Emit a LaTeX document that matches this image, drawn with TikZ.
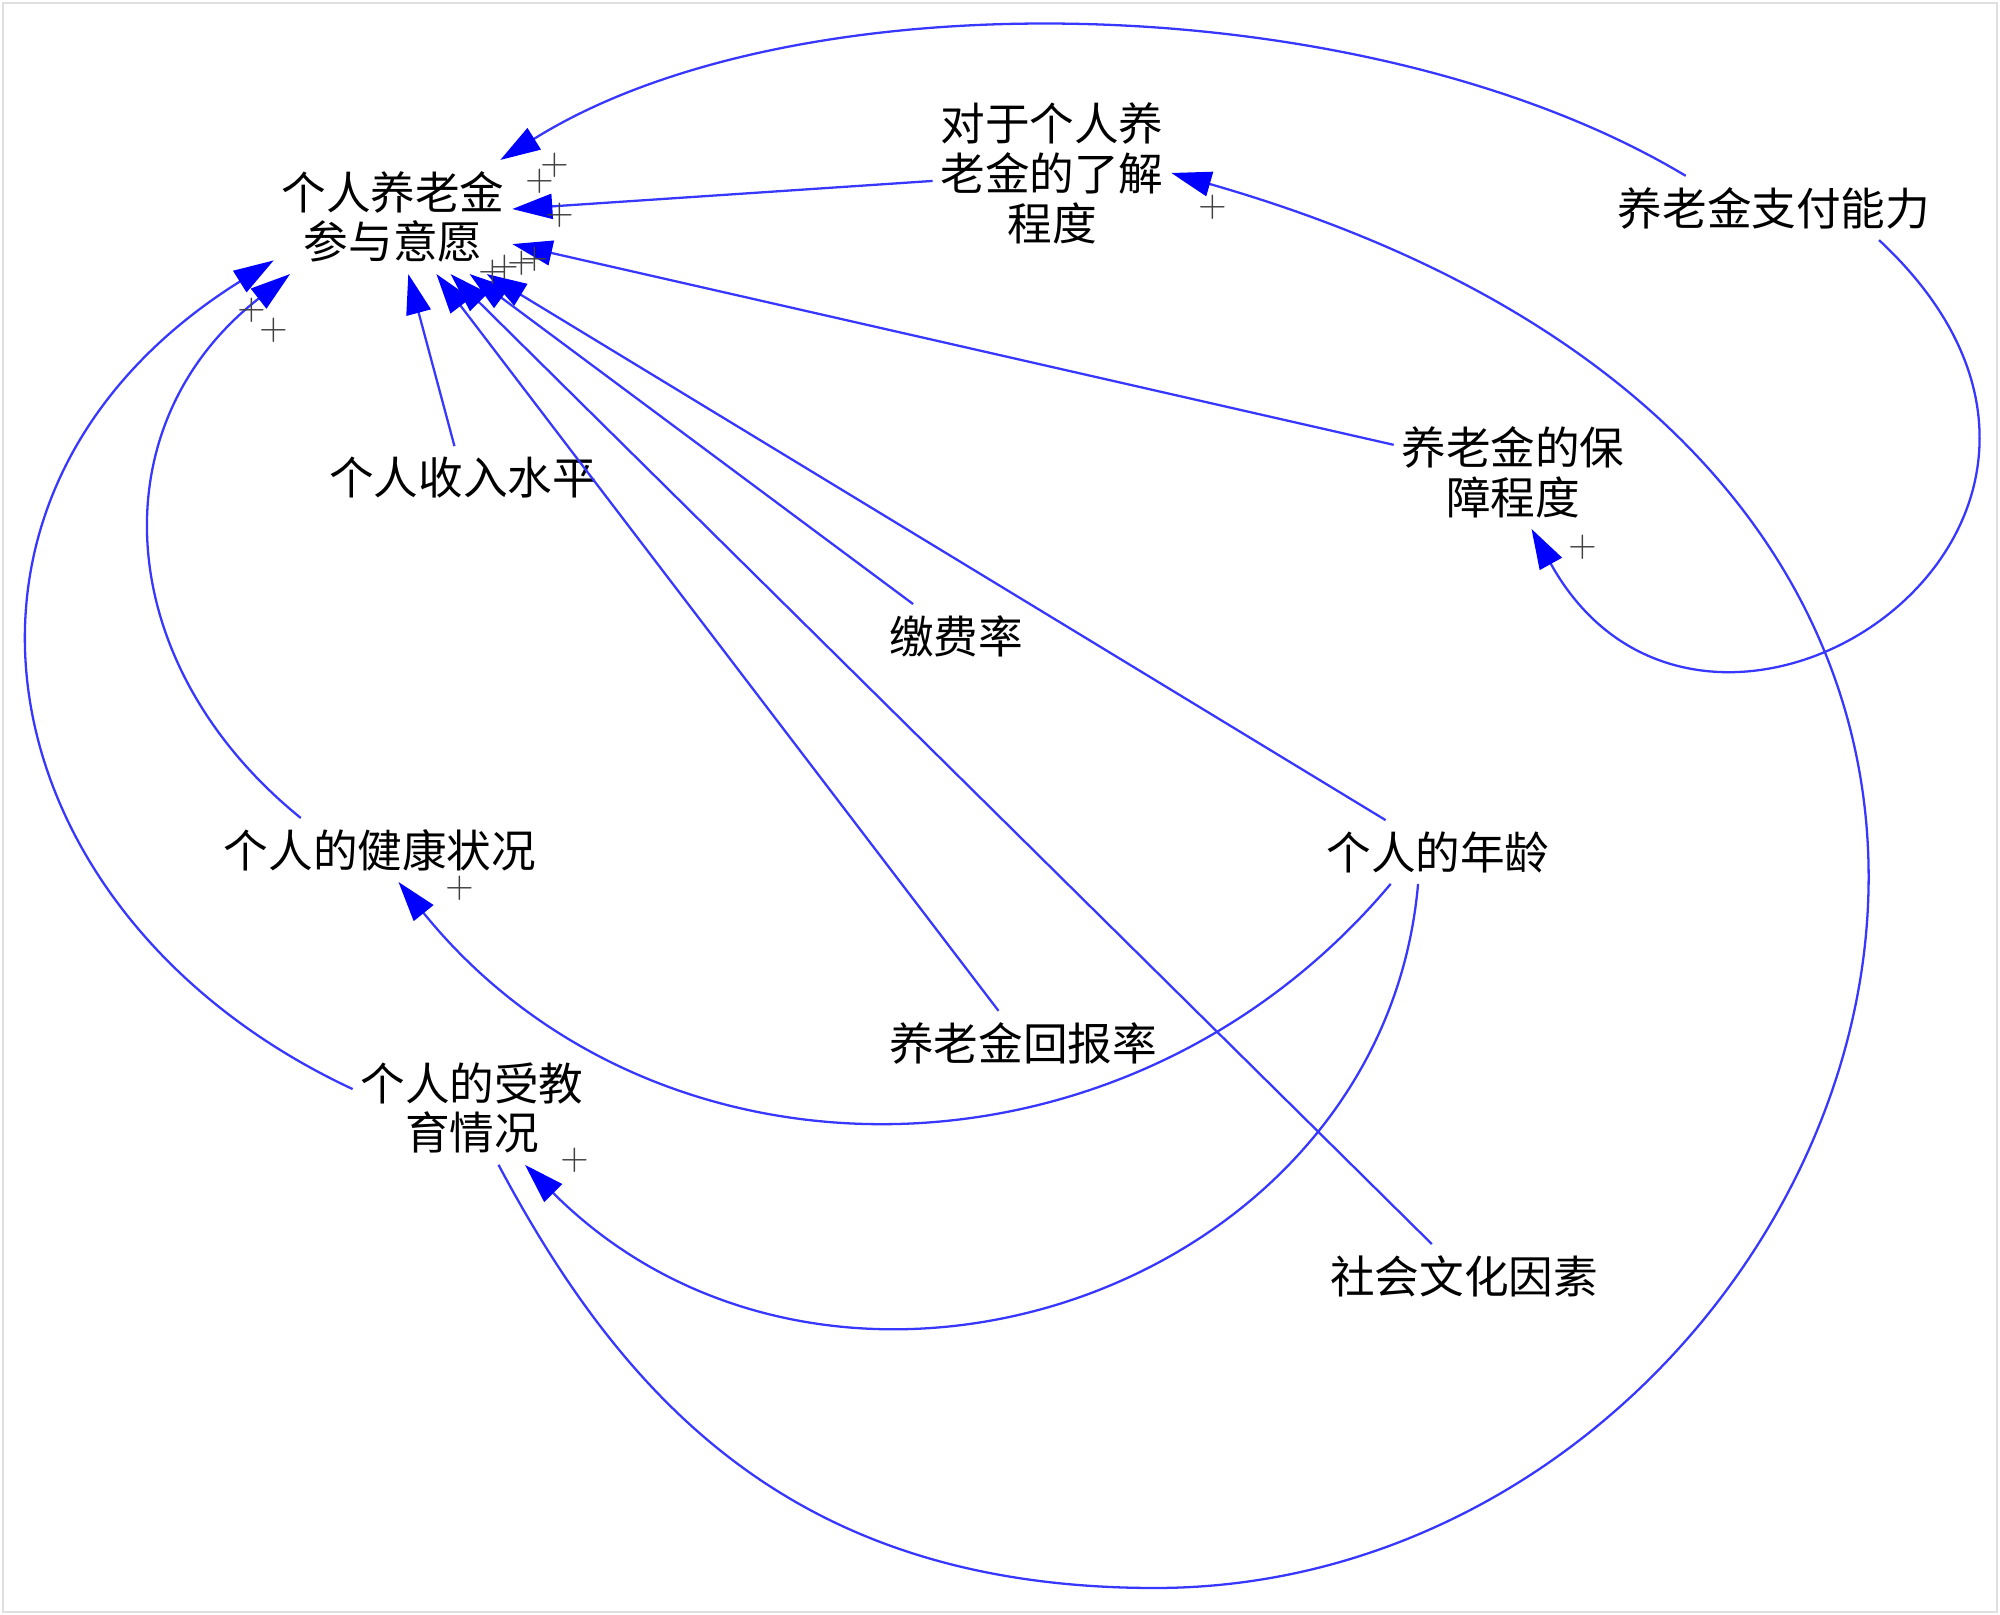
\documentclass[tikz,border=0pt]{standalone}
\usepackage{fontspec}
\usepackage{tikz}
\usetikzlibrary{arrows.meta}
\newfontfamily\cjk{Noto Sans CJK SC}
\definecolor{linkblue}{RGB}{55,55,255}

\begin{document}
\begin{tikzpicture}[
	var/.style={font=\cjk\fontsize{12.7pt}{14.2pt}\selectfont, align=center, inner xsep=2pt, inner ysep=3pt},
	link/.style={draw=linkblue, line width=0.65pt, -{Triangle[length=4mm,width=2.5mm,color=blue]}},
	sign/.style={font=\fontsize{10.5pt}{10.5pt}\selectfont, text=black!75, inner sep=0pt}]
			\useasboundingbox (0,0) rectangle (20,-16.15);
			\draw[black!12, line width=0.6pt] (0.03,-0.03) rectangle (19.97,-16.12);
			\node[var] (W) at (3.93,-2.17) {个人养老金\\参与意愿};
			\node[var] (K) at (10.52,-1.73) {对于个人养\\老金的了解\\程度};
			\node[var] (P) at (17.74,-2.08) {养老金支付能力};
			\node[var] (G) at (15.13,-4.72) {养老金的保\\障程度};
			\node[var] (I) at (4.63,-4.78) {个人收入水平};
			\node[var] (C) at (9.56,-6.36) {缴费率};
			\node[var] (H) at (3.80,-8.50) {个人的健康状况};
			\node[var] (A) at (14.38,-8.52) {个人的年龄};
			\node[var] (R) at (10.23,-10.43) {养老金回报率};
			\node[var] (E) at (4.72,-11.08) {个人的受教\\育情况};
			\node[var] (S) at (14.64,-12.76) {社会文化因素};
			\coordinate (L) at (11.55,-15.88);
			\draw[link] (K) -- (W);
			\draw[link] (G) -- (W);
			\draw[link] (I) -- (W);
			\draw[link] (C) -- (W);
			\draw[link] (R) -- (W);
			\draw[link] (S) -- (W);
			\draw[link] (A) -- (W);
			\draw[link] (P.160) to[out=149,in=32,out distance=3.65cm,in distance=3.55cm] (W.28);
			\draw[link] (H.158) to[out=141,in=218,distance=2.45cm] (W.209);
			\draw[link] (E.171) to[out=155,in=212,out distance=4.1cm,in distance=4.4cm] (W.200);
			\draw[link] (P.343) to[out=-43,in=-61,out distance=4.2cm,in distance=3.6cm] (G.288);
			\draw[link] (E.295) to[out=-62,in=180,out distance=2.8cm,in distance=3.5cm] (L)
				to[out=0,in=-16,out distance=7cm,in distance=11.8cm] (K.east);
			\draw[link] (A.214) to[out=-130,in=-51,distance=4.1cm] (H.300);
			\draw[link] (A.238) to[out=-95,in=-45,out distance=4.1cm,in distance=4.4cm] (E.313);
			%polarity of each link
			\node[sign] (s1) at (5.55,-1.65) {+};
			\node[sign] (s2) at (5.40,-1.81) {+};
			\node[sign] (s3) at (5.60,-2.15) {+};
			\node[sign] (s4) at (4.93,-2.72) {+};
			\node[sign] (s5) at (5.05,-2.67) {+};
			\node[sign] (s6) at (5.22,-2.63) {+};
			\node[sign] (s7) at (5.35,-2.59) {+};
			\node[sign] (s8) at (2.52,-3.10) {+};
			\node[sign] (s9) at (2.74,-3.30) {+};
			\node[sign] (s10) at (12.13,-2.07) {+};
			\node[sign] (s11) at (15.83,-5.47) {+};
			\node[sign] (s12) at (4.60,-8.88) {+};
			\node[sign] (s13) at (5.75,-11.60) {+};
\end{tikzpicture}
\end{document}
